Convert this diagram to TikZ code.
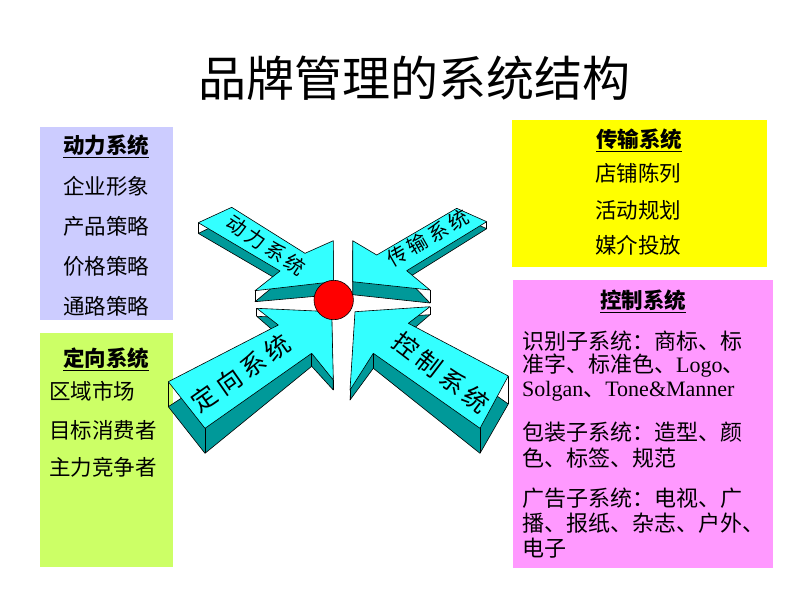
\documentclass[tikz,border=0pt]{standalone}
\usepackage{fontspec}
\setmainfont{Liberation Serif}
\newfontfamily\cjk{Noto Sans CJK SC}
\newcommand\cs{\rule[-0.12em]{0pt}{1em}}
\newcommand\gapA{\hspace{3.5pt}}
\newcommand\gapB{\hspace{4.5pt}}
\definecolor{arrowtop}{HTML}{33FFFF}
\definecolor{arrowside}{HTML}{009999}
\definecolor{boxlav}{HTML}{CCCCFF}
\definecolor{boxgreen}{HTML}{CCFF66}
\definecolor{boxyellow}{HTML}{FFFF00}
\definecolor{boxpink}{HTML}{FF99FF}
\begin{document}
\begin{tikzpicture}[x=1pt,y=-1pt,
  topface/.style={fill=arrowtop,draw=black,line width=0.6pt,line join=round},
  sideface/.style={fill=arrowside,draw=black,line width=0.6pt,line join=round},
  edgeline/.style={draw=black,line width=0.6pt},
  boxtxt/.style={inner sep=0pt,font=\cjk\fontsize{21.5}{21.5}\selectfont},
  boxhead/.style={inner sep=0pt,font=\cjk\bfseries\fontsize{21.5}{21.5}\selectfont},
  pinktxt/.style={inner sep=0pt,anchor=west,font=\fontsize{22}{22}\selectfont},
  arrowtxt/.style={inner sep=0pt,font=\cjk\fontsize{#1}{#1}\selectfont},
  titletxt/.style={inner sep=0pt,font=\cjk\fontsize{48}{48}\selectfont}
]
\useasboundingbox (0,0) rectangle (800,600);
\fill[white] (0,0) rectangle (800,600);

% title
\node[titletxt] (title) at (414,78) {\cs 品牌管理的系统结构};

% boxes
\fill[boxlav] (40,127) rectangle (173,320);
\fill[boxgreen] (40,333) rectangle (173,567);
\fill[boxyellow] (512,120) rectangle (767,267);
\fill[boxpink] (513,280) rectangle (773,568);

% lavender box
\node[boxhead] (h1) at (106,146) {\underline{\cs 动力系统}};
\node[boxtxt] (l1) at (106,186) {\cs 企业形象};
\node[boxtxt] (l2) at (106,226) {\cs 产品策略};
\node[boxtxt] (l3) at (106,266) {\cs 价格策略};
\node[boxtxt] (l4) at (106,306) {\cs 通路策略};

% green box
\node[boxhead] (h2) at (106,359) {\underline{\cs 定向系统}};
\node[boxtxt,anchor=west] (g1) at (49,391) {\cs 区域市场};
\node[boxtxt,anchor=west] (g2) at (49,430) {\cs 目标消费者};
\node[boxtxt,anchor=west] (g3) at (49,467) {\cs 主力竞争者};

% yellow box
\node[boxhead] (h3) at (639,140) {\underline{\cs 传输系统}};
\node[boxtxt] (y1) at (638,173) {\cs 店铺陈列};
\node[boxtxt] (y2) at (638,210) {\cs 活动规划};
\node[boxtxt] (y3) at (638,245) {\cs 媒介投放};

% pink box
\node[boxhead] (h4) at (643,301) {\underline{\cs 控制系统}};
\node[pinktxt] (p1) at (522,341) {\cs{\cjk 识别子系统：商标、标}};
\node[pinktxt] (p2) at (522,365) {\cs{\cjk 准字、标准色、}Logo{\cjk 、}};
\node[pinktxt] (p3) at (522,389) {\cs Solgan{\cjk 、}Tone\&Manner};
\node[pinktxt] (p4) at (522,432) {\cs{\cjk 包装子系统：造型、颜}};
\node[pinktxt] (p5) at (522,458) {\cs{\cjk 色、标签、规范}};
\node[pinktxt] (p6) at (522,498) {\cs{\cjk 广告子系统：电视、广}};
\node[pinktxt] (p7) at (522,523) {\cs{\cjk 播、报纸、杂志、户外、}};
\node[pinktxt] (p8) at (522,548) {\cs{\cjk 电子}};

% ---- top-left arrow
\draw[sideface] (231.7,217.3) -- (305,263.3) -- (333.3,250.7) -- (333.3,294.7) -- (255,301.7) -- (280,281) -- (198.3,233.4) -- cycle;
\draw[edgeline] (231.7,207.3) -- ++(0,10) (255,290.7) -- ++(0,11) (280,271) -- ++(0,10) (198.3,222.7) -- ++(0,10.7);
\draw[topface] (231.7,207.3) -- (305,253.3) -- (333.3,240.7) -- (333.3,281.7) -- (255,290.7) -- (280,271) -- (198.3,222.7) -- cycle;
\node[arrowtxt=20,rotate=-34] (tla) at (266,245) {\cs 动\gapA 力\gapA 系\gapA 统};

% ---- top-right arrow
\draw[sideface] (352.7,250.7) -- (376.7,265) -- (456.7,215.3) -- (486.7,228.7) -- (406.7,278.7) -- (430,303) -- (352.7,294.7) -- cycle;
\draw[edgeline] (486.7,221.7) -- ++(0,7) (430,290) -- ++(0,13) (406.7,270.7) -- ++(0,8);
\draw[topface] (352.7,240.7) -- (376.7,255) -- (456.7,208.3) -- (486.7,221.7) -- (406.7,270.7) -- (430,290) -- (352.7,281.7) -- cycle;
\node[arrowtxt=20,rotate=30] (tra) at (428,238) {\cs 传\gapA 输\gapA 系\gapA 统};

% ---- bottom-left arrow
\draw[sideface] (256.7,316.3) -- (331.7,319.7) -- (333.3,390) -- (311.7,366.3) -- (205,453.3) -- (168.3,406.7) -- (278.3,335) -- cycle;
\draw[edgeline] (256.7,308.3) -- ++(0,8) (333.3,380) -- ++(0,10) (311.7,353.3) -- ++(0,13) (205,428.3) -- ++(0,25) (168.3,381.7) -- ++(0,25);
\draw[topface] (256.7,308.3) -- (331.7,311.7) -- (333.3,380) -- (311.7,353.3) -- (205,428.3) -- (168.3,381.7) -- (278.3,325) -- cycle;
\node[arrowtxt=25,rotate=35] (bla) at (241,373) {\cs 定\gapB 向\gapB 系\gapB 统};

% ---- bottom-right arrow
\draw[sideface] (355,319.7) -- (430,314.7) -- (408.3,333.3) -- (508.3,404) -- (480,453.3) -- (373.3,368.3) -- (350,400) -- cycle;
\draw[edgeline] (430,306.7) -- ++(0,8) (408.3,323.3) -- ++(0,10) (508.3,376) -- ++(0,28) (480,428.3) -- ++(0,25) (373.3,353.3) -- ++(0,15) (350,390) -- ++(0,10);
\draw[topface] (355,311.7) -- (430,306.7) -- (408.3,323.3) -- (508.3,376) -- (480,428.3) -- (373.3,353.3) -- (350,390) -- cycle;
\node[arrowtxt=25,rotate=-37.5] (bra) at (441,373) {\cs 控\gapB 制\gapB 系\gapB 统};

% centre ball
\draw[fill=red,draw=black,line width=0.6pt] (333.7,300) circle[radius=19.7];
\end{tikzpicture}
\end{document}
